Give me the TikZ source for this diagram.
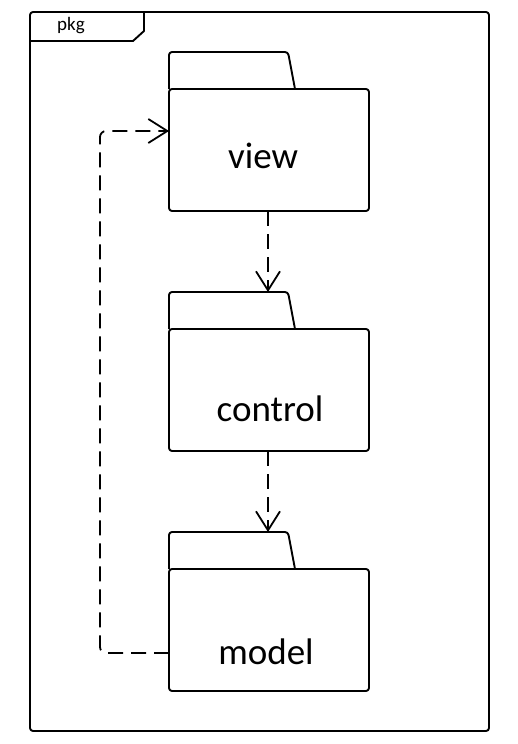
\documentclass[tikz,border=0pt]{standalone}
\usepackage{fontspec}
\setmainfont{Carlito}
\usetikzlibrary{arrows.meta}
\begin{document}
\begin{tikzpicture}[x=1pt,y=-1pt,
  outline/.style={line width=1.9pt, line join=round},
  dep/.style={line width=1.8pt, dash pattern=on 15pt off 8pt, -{Straight Barb[length=19pt,width=24pt,line width=1.8pt]}},
  lbl/.style={font=\fontsize{37}{38}\selectfont, inner sep=0pt}]
\useasboundingbox (0,0) rectangle (517,744);
% outer frame
\draw[outline, rounded corners=3pt] (30,12) rectangle (489,731);
\draw[outline] (30,41) -- (133,41) -- (144,31) -- (144,12);
\node[font=\fontsize{19}{20}\selectfont] (pkg) at (71,26) {pkg};
% packages
\foreach \n/\t/\lab/\lx/\ly in {view/52/view/263/156, control/292/control/270/409, model/532/model/266/652}{
  \draw[outline, rounded corners=3pt] (169,\t+37) -- (169,\t) -- (288,\t) -- (295,\t+37);
  \draw[outline, rounded corners=3pt] (169,\t+37) rectangle (369,\t+159);
  \coordinate (\n-tab) at (268,\t);
  \coordinate (\n-bot) at (268,\t+159);
  \node[lbl] (\n) at (\lx,\ly) {\lab};
}
\coordinate (view-in) at (169,131);
\coordinate (model-out) at (169,653);
\coordinate (bl) at (100,653);
\coordinate (tl) at (100,131);
\draw[dep] (view-bot) -- (control-tab);
\draw[dep] (control-bot) -- (model-tab);
\draw[dep, rounded corners=6pt] (model-out) -- (bl) -- (tl) -- (view-in);
\end{tikzpicture}
\end{document}
